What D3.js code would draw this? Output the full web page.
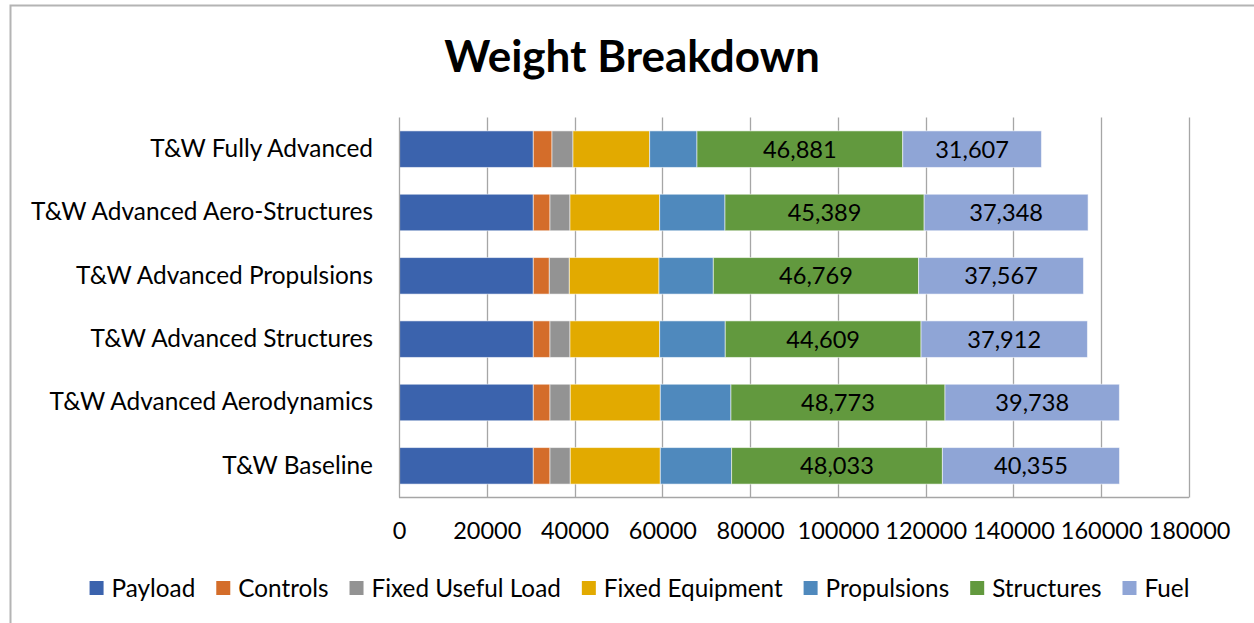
<!DOCTYPE html>
<html>
<head>
<meta charset="utf-8">
<script src="https://cdn.jsdelivr.net/npm/d3@7"></script>
<style>
  body { margin: 0; background: #fff; }
  svg { display: block; font-family: Lato, "Open Sans", sans-serif; }
</style>
</head>
<body>
<svg width="1254" height="623"></svg>
<script>
var categories = ["T&W Baseline", "T&W Advanced Aerodynamics", "T&W Advanced Structures",
                  "T&W Advanced Propulsions", "T&W Advanced Aero-Structures", "T&W Fully Advanced"];
var payload     = [30600, 30600, 30600, 30600, 30600, 30600];
var controls    = [3800, 3800, 3800, 3650, 3800, 4260];
var fixedUseful = [4630, 4630, 4560, 4560, 4560, 4780];
var fixedEquip  = [20510, 20510, 20430, 20430, 20430, 17470];
var propulsions = [16240, 16090, 14950, 12380, 14880, 10780];
var structures  = [48033, 48773, 44609, 46769, 45389, 46881];
var fuel        = [40355, 39738, 37912, 37567, 37348, 31607];
var seriesNames = ["Payload", "Controls", "Fixed Useful Load", "Fixed Equipment", "Propulsions", "Structures", "Fuel"];
var xTicks = [0, 20000, 40000, 60000, 80000, 100000, 120000, 140000, 160000, 180000];

var colors = ["#3b63ad", "#d46d2a", "#939393", "#e2aa00", "#4f89bd", "#62993e", "#8fa5d6"];
var labelled = {"Structures": true, "Fuel": true};

var svg = d3.select("svg"),
    width = +svg.attr("width"),
    height = +svg.attr("height");

var plot = {left: 399, right: 1189, top: 117.5, bottom: 497.5};

// chart frame (only left and top edges are visible in the picture)
svg.append("path")
    .attr("d", "M10.5,623 V5.5 H1254")
    .attr("fill", "none")
    .attr("stroke", "#b4b4b4")
    .attr("stroke-width", 2);

// table rows for the stack
var rows = categories.map(function(c, i) {
  return {
    cat: c,
    "Payload": payload[i], "Controls": controls[i], "Fixed Useful Load": fixedUseful[i],
    "Fixed Equipment": fixedEquip[i], "Propulsions": propulsions[i],
    "Structures": structures[i], "Fuel": fuel[i]
  };
});
var stacked = d3.stack().keys(seriesNames)(rows);

var x = d3.scaleLinear().domain([0, 180000]).range([plot.left, plot.right]);
var y = d3.scaleBand()
    .domain(categories.slice().reverse())
    .range([plot.top, plot.bottom])
    .paddingInner(0.423)
    .paddingOuter(0.2115);

// gridlines
svg.append("g")
  .selectAll("line")
  .data(xTicks.slice(1))
  .enter().append("line")
    .attr("x1", function(d) { return Math.round(x(d)) + 0.5; })
    .attr("x2", function(d) { return Math.round(x(d)) + 0.5; })
    .attr("y1", plot.top)
    .attr("y2", plot.bottom)
    .attr("stroke", "#a6a6a6")
    .attr("stroke-width", 1.3);

// bars
var layer = svg.append("g").selectAll("g")
    .data(stacked)
  .enter().append("g")
    .attr("fill", function(d, i) { return colors[i]; });

layer.selectAll("rect")
    .data(function(d) { return d; })
  .enter().append("rect")
    .attr("x", function(d) { return x(d[0]); })
    .attr("width", function(d) { return x(d[1]) - x(d[0]); })
    .attr("y", function(d) { return y(d.data.cat); })
    .attr("height", y.bandwidth())
    .attr("stroke", "#ffffff")
    .attr("stroke-opacity", 0.55)
    .attr("stroke-width", 1);

// data labels on Structures and Fuel
layer.filter(function(d) { return labelled[d.key]; })
  .selectAll("text")
    .data(function(d) { return d; })
  .enter().append("text")
    .attr("x", function(d) { return (x(d[0]) + x(d[1])) / 2; })
    .attr("y", function(d) { return y(d.data.cat) + y.bandwidth() / 2; })
    .attr("dy", "0.36em")
    .attr("text-anchor", "middle")
    .attr("fill", "#000")
    .style("font-size", "23.6px")
    .text(function(d) { return d3.format(",")(d[1] - d[0]); });

// axes lines
svg.append("line")
    .attr("x1", plot.left + 0.5).attr("x2", plot.left + 0.5)
    .attr("y1", plot.top).attr("y2", plot.bottom)
    .attr("stroke", "#a6a6a6").attr("stroke-width", 1.3);
svg.append("line")
    .attr("x1", plot.left).attr("x2", plot.right)
    .attr("y1", plot.bottom).attr("y2", plot.bottom)
    .attr("stroke", "#a6a6a6").attr("stroke-width", 1.3);

// x tick labels
var xAxis = svg.append("g")
    .attr("transform", "translate(0," + plot.bottom + ")")
    .call(d3.axisBottom(x).tickValues(xTicks).tickFormat(d3.format("d")).tickSize(0).tickPadding(25));
xAxis.select(".domain").remove();
xAxis.selectAll("text")
    .attr("fill", "#000")
    .style("font-family", "Lato, sans-serif")
    .style("font-size", "23.5px");

// category labels
var yAxis = svg.append("g")
    .attr("transform", "translate(" + plot.left + ",0)")
    .call(d3.axisLeft(y).tickSize(0).tickPadding(26));
yAxis.select(".domain").remove();
yAxis.selectAll("text")
    .attr("fill", "#000")
    .style("font-family", "Lato, sans-serif")
    .style("font-size", "24.4px");

// title
svg.append("text")
    .attr("x", 632)
    .attr("y", 72)
    .attr("text-anchor", "middle")
    .style("font-size", "44px")
    .style("font-weight", "bold")
    .text("Weight Breakdown");

// legend
var legend = svg.append("g");
var lx = 0;
seriesNames.forEach(function(name, i) {
  var item = legend.append("g").attr("transform", "translate(" + lx + ",0)");
  item.append("rect")
      .attr("x", 0).attr("y", -7)
      .attr("width", 14).attr("height", 14)
      .attr("fill", colors[i]);
  var t = item.append("text")
      .attr("x", 22).attr("y", 0)
      .attr("dy", "0.36em")
      .style("font-size", "24.3px")
      .text(name);
  lx += 22 + t.node().getComputedTextLength() + 21;
});
var legendWidth = lx - 21;
legend.attr("transform", "translate(" + (639.5 - legendWidth / 2) + ",588)");
</script>
</body>
</html>
